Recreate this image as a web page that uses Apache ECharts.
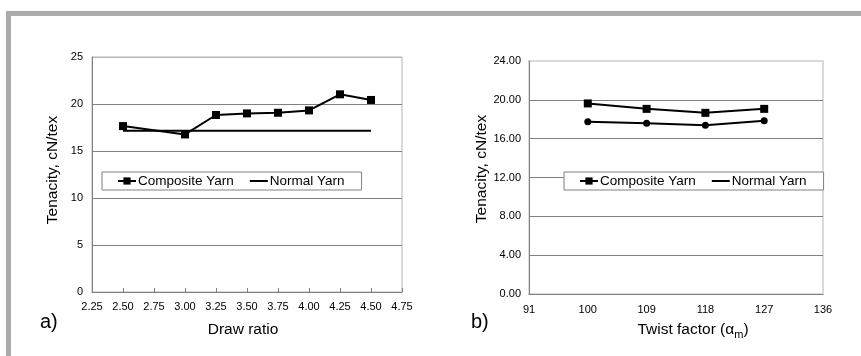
<!DOCTYPE html>
<html>
<head>
<meta charset="utf-8">
<script src="https://cdn.jsdelivr.net/npm/echarts@6/dist/echarts.min.js"></script>
<style>
html,body{margin:0;padding:0;background:#fff;}
#c{width:861px;height:356px;}
</style>
</head>
<body>
<div id="c"></div>
<script>
// ---- data ----
const drawRatio = [2.50, 3.00, 3.25, 3.50, 3.75, 4.00, 4.25, 4.50];
const compositeA = [17.65, 16.76, 18.83, 19.00, 19.07, 19.32, 21.03, 20.43];
const normalA = [17.15, 17.15, 17.15, 17.15, 17.15, 17.15, 17.15, 17.15];

const twistCats = ['91', '100', '109', '118', '127', '136'];
const compositeB = [null, 19.63, 19.07, 18.66, 19.07, null];
const normalB = [null, 17.73, 17.60, 17.39, 17.84, null];

const seriesNames = ['Composite Yarn', 'Normal Yarn'];

const FONT = 'Liberation Sans, Arial, sans-serif';
const chart = echarts.init(document.getElementById('c'), null, {renderer: 'canvas'});

const lineIcon = 'path://M0,0 L18,0 L18,2 L0,2 Z';

function legendFor(left) {
  return {
    left: left, top: 172,
    orient: 'horizontal',
    padding: [2, 17, 2, 15],
    itemGap: 16,
    itemWidth: 18, itemHeight: 9,
    backgroundColor: '#fff',
    borderColor: '#808080', borderWidth: 1, borderRadius: 0,
    selectedMode: false,
    textStyle: {fontFamily: FONT, fontSize: 13.5, color: '#000', padding: [0, 0, 0, -3]},
    data: [
      {name: seriesNames[0]},
      {name: seriesNames[1], icon: lineIcon}
    ]
  };
}

const axisLbl = {fontFamily: FONT, fontSize: 11, color: '#000'};

const option = {
  backgroundColor: '#fff',
  animation: false,
  grid: [
    {left: 92, right: 459, top: 57, bottom: 64, show: true, borderColor: '#b4b4b4', borderWidth: 1, backgroundColor: 'transparent'},
    {left: 529, right: 38, top: 61, bottom: 62, show: true, borderColor: '#dadada', borderWidth: 2, backgroundColor: 'transparent'}
  ],
  legend: [legendFor(102), legendFor(564)],
  xAxis: [
    {
      type: 'value', gridIndex: 0, min: 2.25, max: 4.75, interval: 0.25,
      axisLine: {show: true, lineStyle: {color: '#808080', width: 1}},
      axisTick: {show: true, inside: true, length: 4, lineStyle: {color: '#808080'}},
      axisLabel: Object.assign({margin: 9, formatter: v => v.toFixed(2)}, axisLbl),
      splitLine: {show: false}
    },
    {
      type: 'category', gridIndex: 1, data: twistCats, boundaryGap: false,
      axisLine: {show: true, lineStyle: {color: '#808080', width: 1}},
      axisTick: {show: false},
      axisLabel: Object.assign({margin: 10}, axisLbl),
      splitLine: {show: false}
    }
  ],
  yAxis: [
    {
      type: 'value', gridIndex: 0, min: 0, max: 25, interval: 5,
      axisLine: {show: true, lineStyle: {color: '#808080', width: 1}},
      axisTick: {show: false},
      axisLabel: Object.assign({margin: 9}, axisLbl),
      splitLine: {show: true, lineStyle: {color: ['#808080', '#808080', '#808080', '#808080', '#808080', '#b4b4b4'], width: 1}}
    },
    {
      type: 'value', gridIndex: 1, min: 0, max: 24, interval: 4,
      axisLine: {show: true, lineStyle: {color: '#808080', width: 1}},
      axisTick: {show: false},
      axisLabel: Object.assign({margin: 8, formatter: v => v.toFixed(2)}, axisLbl),
      splitLine: {show: true, lineStyle: {color: ['#808080', '#808080', '#808080', '#808080', '#808080', '#808080', '#dadada'], width: 1}}
    }
  ],
  series: [
    {
      name: seriesNames[0], type: 'line', xAxisIndex: 0, yAxisIndex: 0,
      data: drawRatio.map((x, i) => [x, compositeA[i]]),
      symbol: 'rect', symbolSize: 8,
      lineStyle: {color: '#000', width: 2}, itemStyle: {color: '#000'}, z: 5
    },
    {
      name: seriesNames[1], type: 'line', xAxisIndex: 0, yAxisIndex: 0,
      data: drawRatio.map((x, i) => [x, normalA[i]]),
      symbol: 'none',
      lineStyle: {color: '#000', width: 2}, itemStyle: {color: '#000'}, z: 4
    },
    {
      name: seriesNames[0], type: 'line', xAxisIndex: 1, yAxisIndex: 1,
      data: compositeB,
      symbol: 'rect', symbolSize: 8, connectNulls: false,
      lineStyle: {color: '#000', width: 2}, itemStyle: {color: '#000'}, z: 5
    },
    {
      name: seriesNames[1], type: 'line', xAxisIndex: 1, yAxisIndex: 1,
      data: normalB,
      symbol: 'circle', symbolSize: 7,
      lineStyle: {color: '#000', width: 2}, itemStyle: {color: '#000'}, z: 5
    }
  ],
  graphic: [
    {type: 'rect', shape: {x: 6, y: 11, width: 855, height: 5}, style: {fill: '#acacac'}, silent: true},
    {type: 'rect', shape: {x: 6, y: 11, width: 5, height: 345}, style: {fill: '#acacac'}, silent: true},
    {type: 'text', x: 53, y: 170, rotation: Math.PI / 2,
      style: {text: 'Tenacity, cN/tex', font: '15.5px ' + FONT, fill: '#000', align: 'center', verticalAlign: 'middle'}},
    {type: 'text', x: 482, y: 169, rotation: Math.PI / 2,
      style: {text: 'Tenacity, cN/tex', font: '15.5px ' + FONT, fill: '#000', align: 'center', verticalAlign: 'middle'}},
    {type: 'text', x: 243, y: 330,
      style: {text: 'Draw ratio', font: '15.5px ' + FONT, fill: '#000', align: 'center', verticalAlign: 'middle'}},
    {type: 'text', x: 693, y: 330,
      style: {text: 'Twist factor (α{m|m})', font: '15.5px ' + FONT, fill: '#000', align: 'center', verticalAlign: 'middle',
        rich: {m: {fontFamily: FONT, fontSize: 11, padding: [9, 0, 0, 0]}}}},
    {type: 'text', x: 40, y: 322,
      style: {text: 'a)', font: '20px ' + FONT, fill: '#000', align: 'left', verticalAlign: 'middle'}},
    {type: 'text', x: 471, y: 322,
      style: {text: 'b)', font: '20px ' + FONT, fill: '#000', align: 'left', verticalAlign: 'middle'}}
  ]
};
chart.setOption(option);
</script>
</body>
</html>
